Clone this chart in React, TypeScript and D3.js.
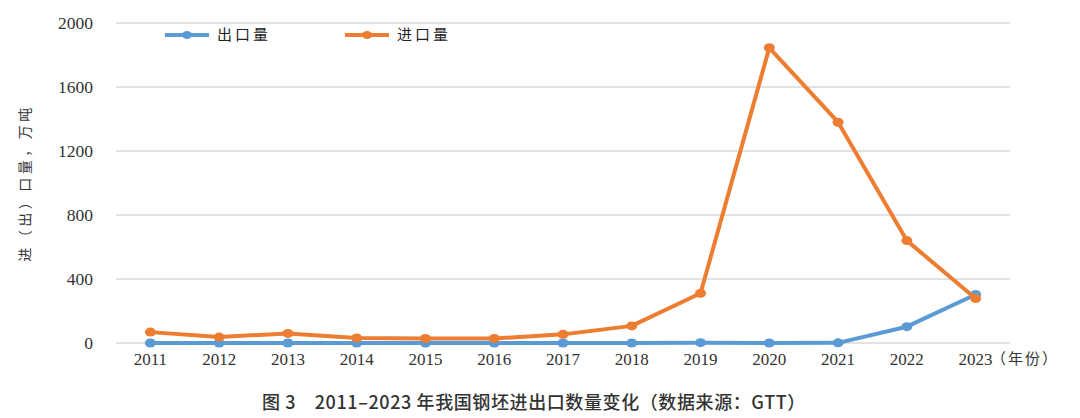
import * as d3 from "d3";
import React from "react";

const years = ["2011", "2012", "2013", "2014", "2015", "2016", "2017", "2018", "2019", "2020", "2021", "2022", "2023"];
const exportValues = [0, 0, 0, 0, 0, 0, 0, 0, 2, 0, 1, 102, 303];
const importValues = [68, 37, 60, 32, 28, 28, 54, 107, 311, 1845, 1380, 640, 278];
const yTicks = [0, 400, 800, 1200, 1600, 2000];

const series = [
  { name: "出口量", values: exportValues, color: "#5B9BD5" },
  { name: "进口量", values: importValues, color: "#ED7D31" },
];

const W = 1080;
const H = 418;
const left = 116;
const right = 1010;
const top = 23;
const bottom = 343;

const App: React.FC = () => {
  const x = d3.scaleBand<string>().domain(years).range([left, right]);
  const y = d3.scaleLinear().domain([0, 2000]).range([bottom, top]);
  const cx = (d: string) => (x(d) ?? 0) + x.bandwidth() / 2;

  const line = d3
    .line<number>()
    .x((_, i) => cx(years[i]))
    .y((d) => y(d));

  const serif = "'Liberation Serif', 'DejaVu Serif', serif";
  const cjk = "'Noto Sans CJK SC', sans-serif";

  return (
    <div style={{ position: "absolute", left: 0, top: 0 }}>
      <svg width={W} height={H} style={{ display: "block", background: "#fff" }}>
        {/* grid */}
        {yTicks.map((t) => (
          <g key={t}>
            <line x1={left} x2={right} y1={y(t)} y2={y(t)} stroke="#d9d9d9" strokeWidth={1.5} />
            <text x={93} y={y(t)} dy="0.35em" textAnchor="end" fontFamily={serif} fontSize={17.5} fill="#333">
              {t}
            </text>
          </g>
        ))}

        {/* x labels */}
        {years.map((yr) => (
          <text key={yr} x={cx(yr)} y={365} textAnchor="middle" fontFamily={serif} fontSize={17} fill="#333">
            {yr}
          </text>
        ))}
        <text x={991} y={364} fontFamily={cjk} fontSize={15} fill="#333" letterSpacing={2}>
          （年份）
        </text>

        {/* y label */}
        <text
          transform={`translate(30,183) rotate(-90)`}
          textAnchor="middle"
          fontFamily={cjk}
          fontSize={14}
          fill="#333"
          letterSpacing={3.5}
        >
          进（出）口量，万吨
        </text>

        {/* series */}
        {series.map((s) => (
          <g key={s.name}>
            <path d={line(s.values) ?? ""} fill="none" stroke={s.color} strokeWidth={4} strokeLinejoin="round" />
            {s.values.map((v, i) => (
              <ellipse key={i} cx={cx(years[i])} cy={y(v)} rx={5.5} ry={4.5} fill={s.color} />
            ))}
          </g>
        ))}

        {/* legend */}
        {series.map((s, i) => {
          const lx = 165 + i * 180;
          return (
            <g key={s.name}>
              <line x1={lx} x2={lx + 44} y1={35} y2={35} stroke={s.color} strokeWidth={4} />
              <ellipse cx={lx + 22} cy={35} rx={5} ry={4} fill={s.color} />
              <text x={lx + 52} y={35} dy="0.35em" fontFamily={cjk} fontSize={15} fill="#222" letterSpacing={3}>
                {s.name}
              </text>
            </g>
          );
        })}

        {/* caption */}
        <text
          x={534}
          y={409}
          textAnchor="middle"
          fontFamily={cjk}
          fontSize={18}
          fontWeight={500}
          fill="#333"
          letterSpacing={0.6}
        >
          图 3　2011–2023 年我国钢坯进出口数量变化（数据来源：GTT）
        </text>
      </svg>
    </div>
  );
};

export default App;
